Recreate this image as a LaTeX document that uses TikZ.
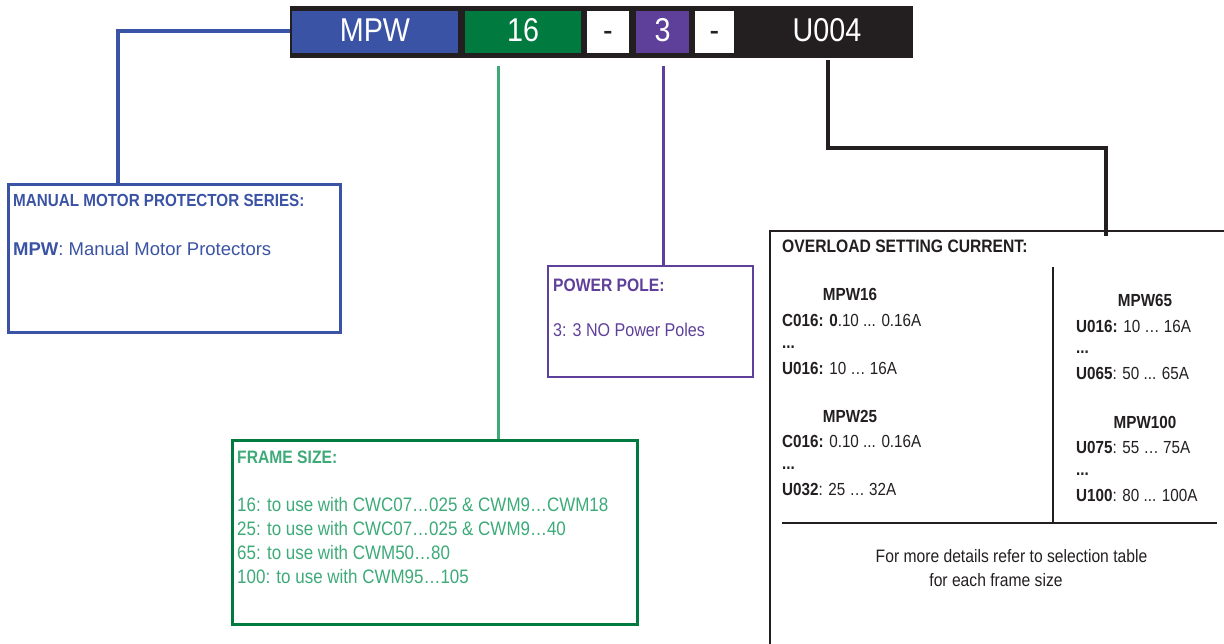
\documentclass[tikz,border=0pt]{standalone}
\usepackage{fontspec}
\setmainfont{Liberation Sans}
\newfontfamily\cnd{Liberation Sans}[FakeStretch=0.87]
\usetikzlibrary{calc}
\definecolor{mblue}{HTML}{3A53A4}
\definecolor{mgreen}{HTML}{007A3E}
\definecolor{lgreen}{HTML}{3DAA78}
\definecolor{mpurple}{HTML}{5E3F99}
\definecolor{mblack}{HTML}{231F20}
\newcommand{\myfs}[1]{\fontsize{#1}{#1}\selectfont}
\tikzset{
  seg/.style={inner sep=0pt, minimum height=42pt, text height=23pt, text depth=3pt, font=\cnd\myfs{33}},
  txt/.style={anchor=base west, inner sep=0pt},
  ctxt/.style={anchor=base, inner sep=0pt},
  boxfr/.style={draw, anchor=north west, inner sep=0pt, line width=2.6pt},
  conn/.style={line width=3pt},
}
\begin{document}
\begin{tikzpicture}[x=1pt,y=-1pt]
\useasboundingbox (0,0) rectangle (1224,644);
\clip (0,0) rectangle (1224,644);
% connectors (under the bar)
\coordinate (b0) at (292,31);
\coordinate (b1) at (118,31);
\coordinate (g0) at (498,66);
\coordinate (p0) at (663,66);
\coordinate (k0) at (828,60);
\coordinate (k1) at (828,148);
\coordinate (k2) at (1106,148);
% boxes
\node[boxfr, draw=mblue, minimum width=332pt, minimum height=148pt] (sbox) at (7,183) {};
\node[boxfr, draw=mgreen, minimum width=405pt, minimum height=184pt] (fbox) at (231,439) {};
\node[boxfr, draw=mpurple, line width=2.4pt, minimum width=205pt, minimum height=111pt] (pbox) at (547,265) {};
\node[boxfr, draw=mblack, line width=2.4pt, minimum width=540pt, minimum height=480pt] (obox) at (769,230) {};
\draw[conn, mblue, line width=3.3pt] (b0) -- (b1) -- (b1 |- sbox.north);
\draw[conn, lgreen] (g0) -- (g0 |- fbox.north);
\draw[conn, mpurple] (p0) -- (p0 |- pbox.north);
\draw[conn, mblack, line width=3.6pt] (k0) -- (k1) -- (k2) -- ([yshift=-6pt]k2 |- obox.north);
% top bar
\node[fill=mblack, anchor=north west, inner sep=0pt, minimum width=623pt, minimum height=52pt] (bar) at (290,6) {};
\node[seg, fill=mblue, text=white, minimum width=166pt] (mpw) at (375,32) {MPW};
\node[seg, fill=mgreen, text=white, minimum width=116pt] (fs) at (523,32) {16};
\node[seg, fill=white, text=mblack, minimum width=42pt] (d1) at (608,32) {-};
\node[seg, fill=mpurple, text=white, minimum width=53pt] (pp) at (662.5,32) {3};
\node[seg, fill=white, text=mblack, minimum width=39pt] (d2) at (714.5,32) {-};
\node[seg, text=white] (u004) at (827,32) {U004};
% series box text
\node[txt, text=mblue, font=\cnd\myfs{17.5}\bfseries] (st) at (13,207) {MANUAL MOTOR PROTECTOR SERIES:};
\node[txt, text=mblue, font=\myfs{18.5}] (sb) at (13,256) {\textbf{MPW}: Manual Motor Protectors};
% power pole
\node[txt, text=mpurple, font=\cnd\myfs{18}\bfseries] (pt) at (553,292) {POWER POLE:};
\node[txt, text=mpurple, font=\cnd\myfs{18.5}] (pb) at (553,337) {3: 3 NO Power Poles};
% frame size
\node[txt, text=lgreen, font=\cnd\myfs{18}\bfseries] (ft) at (237,463) {FRAME SIZE:};
\begin{scope}[every node/.style={txt, text=lgreen, font=\cnd\myfs{19.5}}]
\node (f1) at (237,511) {16: to use with CWC07…025 \& CWM9…CWM18};
\node (f2) at (237,535) {25: to use with CWC07…025 \& CWM9…40};
\node (f3) at (237,559) {65: to use with CWM50…80};
\node (f4) at (237,583) {100: to use with CWM95…105};
\end{scope}
% overload box
\node[txt, text=mblack, font=\cnd\myfs{18}\bfseries] (ot) at (782,252.5) {OVERLOAD SETTING CURRENT:};
\draw[mblack, line width=2.4pt] (1053,267) coordinate (v0) -- (1053,523) coordinate (v1);
\coordinate (h0) at (782,523);
\coordinate (h1) at (1217,523);
\draw[mblack, line width=2.4pt] (h0) -- (h1);
\begin{scope}[every node/.style={txt, text=mblack, font=\cnd\myfs{17.5}}]
\node[ctxt, font=\cnd\myfs{17.5}\bfseries] (m16) at (850,301) {MPW16};
\node (a1) at (782,327) {\textbf{C016: 0}.10 ... 0.16A};
\node (a2) at (782,348.5) {\textbf{...}};
\node (a3) at (782,374) {\textbf{U016:} 10 … 16A};
\node[ctxt, font=\cnd\myfs{17.5}\bfseries] (m25) at (850,422) {MPW25};
\node (a4) at (782,447.5) {\textbf{C016:} 0.10 ... 0.16A};
\node (a5) at (782,469.5) {\textbf{...}};
\node (a6) at (782,495) {\textbf{U032}: 25 … 32A};
\node[ctxt, font=\cnd\myfs{17.5}\bfseries] (m65) at (1145,307) {MPW65};
\node (b1t) at (1076,332.3) {\textbf{U016:} 10 … 16A};
\node (b2t) at (1076,354) {\textbf{...}};
\node (b3t) at (1076,380) {\textbf{U065}: 50 ... 65A};
\node[ctxt, font=\cnd\myfs{17.5}\bfseries] (m100) at (1145,428.3) {MPW100};
\node (b4t) at (1076,453.3) {\textbf{U075}: 55 … 75A};
\node (b5t) at (1076,475) {\textbf{...}};
\node (b6t) at (1076,501) {\textbf{U100}: 80 ... 100A};
\node[ctxt, font=\cnd\myfs{18}] (n1) at (1011.5,562.7) {For more details refer to selection table};
\node[ctxt, font=\cnd\myfs{18}] (n2) at (996,586) {for each frame size};
\end{scope}
\end{tikzpicture}
\end{document}
